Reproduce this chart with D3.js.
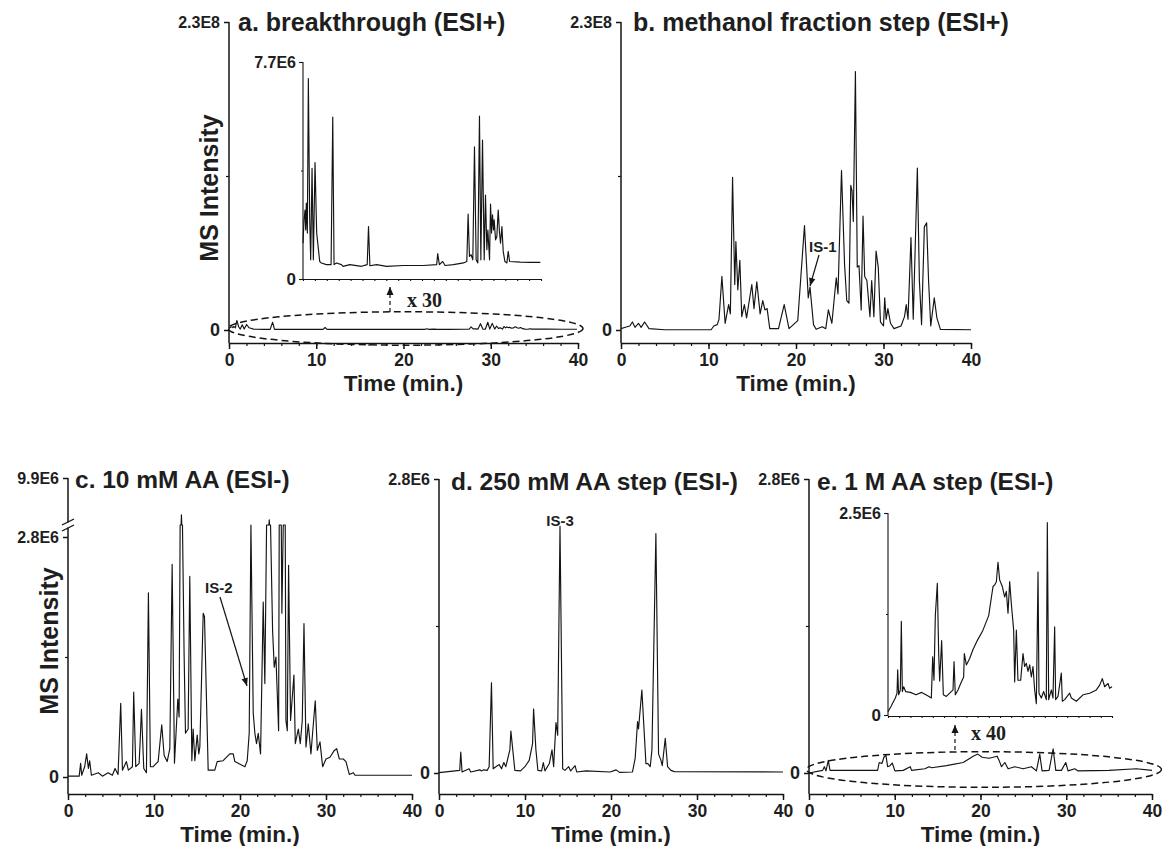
<!DOCTYPE html>
<html><head><meta charset="utf-8">
<script src="https://cdn.jsdelivr.net/npm/d3@7"></script>
<style>body{margin:0;background:#fff}svg{display:block}</style>
</head><body><svg id="chart" width="1162" height="846"></svg>
<script>
// ---------- DATA (time in min, intensity in panel units) ----------
const xTicks = [0, 10, 20, 30, 40];
const xMinor = d3.range(0, 41, 2);

// a. breakthrough (ESI+)  intensity in E6 (also drawn in main panel scaled to 2.3E8)
const aTime = [0,0.17,0.34,0.45,0.56,0.73,0.9,1.12,1.29,1.52,1.74,2.02,2.3,2.81,3.09,3.93,4.72,5.0,5.22,5.62,6.46,6.74,7.87,9.83,10.79,11.01,11.24,12.36,14.04,16.85,20.22,22.47,22.64,22.92,23.48,23.88,25.28,26.97,27.53,27.75,27.98,28.26,28.54,28.82,29.1,29.38,29.66,29.89,30.17,30.45,30.67,30.9,31.07,31.35,31.52,31.69,31.85,32.02,32.13,32.36,32.58,32.81,33.03,33.2,33.43,33.65,33.93,34.27,34.49,34.72,36.52,38.2,39.89];
const aInt = [1.27,2.10,2.45,1.74,2.69,1.63,7.11,2.22,0.68,3.93,0.68,4.13,1.63,0.62,0.57,0.51,0.51,5.75,0.51,0.57,0.51,0.45,0.51,0.45,0.51,1.86,0.47,0.51,0.45,0.48,0.48,0.51,0.90,0.51,0.62,0.48,0.51,0.57,0.62,2.30,0.80,0.86,0.68,4.69,0.68,0.57,5.78,0.68,4.93,0.68,2.98,1.04,1.74,0.68,2.66,1.63,2.28,1.74,2.10,1.39,1.51,2.45,1.63,1.27,1.86,0.98,0.62,0.57,0.98,0.62,0.60,0.59,0.59];

// b. methanol fraction step (ESI+) intensity in E8
const bTime = [0,0.5,1.0,1.3,1.6,2.0,2.3,2.7,3.2,5,10.3,10.6,11.0,11.2,11.53,11.9,12.3,12.5,12.75,13.0,13.13,13.35,13.58,13.8,14.1,14.35,14.95,15.2,15.52,15.9,16.2,16.45,16.7,17.0,18.0,18.65,19.2,20.2,20.97,21.4,21.6,22.0,22.3,23.0,23.4,23.7,24.1,24.6,24.8,25.2,25.55,25.8,26.05,26.26,26.4,26.55,26.79,27.0,27.2,27.45,27.66,27.85,28.1,28.45,28.65,28.9,29.15,29.4,29.65,30.0,30.14,30.3,30.5,30.8,31.2,32.0,32.4,32.6,32.8,33.14,33.4,33.87,34.1,34.35,34.67,34.93,35.15,35.4,35.8,36.1,36.5,40];
const bInt = [0.01,0.02,0.03,0.06,0.02,0.05,0.02,0.06,0.01,0.002,0.002,0.03,0.04,0.08,0.40,0.05,0.19,0.12,1.14,0.34,0.66,0.30,0.52,0.10,0.19,0.09,0.34,0.16,0.36,0.12,0.22,0.15,0.16,0.01,0.01,0.19,0.01,0.07,0.78,0.24,0.32,0.04,0.005,0.025,0.01,0.15,0.05,0.39,0.27,1.19,0.49,0.22,0.20,1.08,1.04,0.81,1.93,0.47,0.48,0.15,0.85,0.40,0.37,0.10,0.37,0.10,0.59,0.47,0.06,0.03,0.24,0.08,0.16,0.05,0.01,0.03,0.10,0.19,0.08,0.69,0.08,1.21,0.37,0.04,0.77,0.80,0.37,0.03,0.24,0.09,0.005,0.002];

// c. 10 mM AA (ESI-) intensity in E6 (values above 2.8 fall in broken segment)
const cTime = [0,1.3,1.47,1.59,1.94,2.17,2.37,2.52,2.72,3.53,4.0,4.66,5.16,5.47,5.82,6.13,6.33,6.79,7.02,7.49,7.64,7.88,8.27,8.38,8.54,8.81,9.12,9.35,9.58,9.9,10.48,10.9,11.18,11.53,11.84,12.11,12.38,12.77,12.92,13.04,13.15,13.19,13.23,13.31,13.5,13.66,13.97,14.16,14.4,14.55,14.75,15.02,15.21,15.33,15.72,15.87,16.3,17.07,17.35,18.04,18.82,19.21,19.4,20.57,20.84,21.07,21.27,21.54,21.73,21.92,22.12,22.39,22.7,22.89,23.09,23.36,23.4,23.44,23.55,23.79,23.98,24.18,24.49,24.56,24.8,24.87,25.03,25.26,25.34,25.5,25.65,25.88,26.27,26.43,26.78,27.01,27.24,27.44,27.67,27.94,28.25,28.44,28.75,28.99,29.3,29.61,30.0,30.46,30.97,31.24,31.55,32.01,32.32,32.71,33.18,33.37,40];
const cInt = [0.01,0.01,0.16,0.02,0.12,0.27,0.10,0.19,0.02,0.05,0.01,0.05,0.02,0.10,0.03,0.86,0.08,0.18,0.08,0.12,0.99,0.12,0.16,0.39,0.79,0.10,0.05,2.15,0.12,0.12,0.18,0.61,0.25,0.18,0.33,2.48,0.16,0.91,0.70,3.0,3.0,4.5,3.0,3.0,1.44,0.51,0.56,2.34,0.19,0.56,0.19,0.49,0.27,0.35,1.91,1.87,0.08,0.08,0.18,0.19,0.27,0.27,0.18,0.12,0.19,0.51,3.0,0.74,0.51,0.39,0.51,0.27,2.04,1.09,3.0,3.0,3.75,3.0,3.0,1.71,1.28,1.40,0.54,3.0,3.0,1.91,3.0,3.0,0.66,0.54,2.47,0.66,1.19,0.39,0.56,0.39,0.66,1.79,0.35,0.62,0.27,0.51,0.89,0.31,0.41,0.12,0.21,0.23,0.31,0.33,0.21,0.21,0.18,0.03,0.05,0.02,0.02];

// d. 250 mM AA step (ESI-) intensity in E6
const dTime = [0,2.41,2.53,2.68,3.5,3.69,4.74,4.94,5.21,5.6,5.83,6.1,6.3,6.61,7.0,7.27,7.54,7.77,8.24,8.36,8.63,8.82,9.48,9.99,10.49,10.88,11.0,11.27,11.5,11.93,12.13,12.32,12.83,13.14,13.33,13.6,13.8,14.07,14.38,14.65,15.08,15.31,15.82,16.01,17.1,19.9,20.6,20.99,22.5,22.81,23.09,23.2,23.59,23.9,24.06,24.29,24.56,24.76,25.22,25.53,25.81,25.96,26.31,26.58,26.97,27.36,40];
const dInt = [0.003,0.025,0.20,0.01,0.04,0.01,0.03,0.02,0.03,0.025,0.06,0.86,0.04,0.06,0.08,0.04,0.10,0.06,0.22,0.40,0.18,0.025,0.02,0.06,0.12,0.28,0.61,0.22,0.025,0.02,0.10,0.02,0.09,0.22,0.06,0.48,0.36,2.35,0.04,0.025,0.06,0.02,0.07,0.01,0.02,0.01,0.03,0.006,0.01,0.14,0.49,0.42,0.79,0.33,0.09,0.09,0.06,0.22,2.28,0.18,0.12,0.07,0.33,0.06,0.025,0.013,0.01];

// e. 1 M AA step (ESI-) main trace, intensity in E6
const eTime = [0,1.59,1.79,1.98,2.25,2.45,3.03,5.0,8.0,8.19,8.5,8.74,8.97,9.17,9.44,9.71,10.02,10.99,11.81,11.96,13.51,14.02,14.29,16.04,17.98,19.15,19.69,20.19,21.0,21.48,21.94,22.17,22.45,22.84,23.22,24.0,24.97,25.94,26.52,26.91,27.18,28.0,28.47,28.78,29.44,29.94,30.21,30.99,31.38,34.99,38.17,40];
const eInt = [0,0.025,0.06,0.02,0.12,0.025,0.025,0.025,0.025,0.10,0.09,0.15,0.17,0.06,0.07,0.095,0.02,0.025,0.06,0.025,0.04,0.06,0.05,0.07,0.10,0.16,0.18,0.15,0.14,0.15,0.16,0.12,0.06,0.10,0.04,0.06,0.04,0.06,0.02,0.18,0.02,0.025,0.23,0.025,0.025,0.10,0.02,0.04,0.02,0.025,0.04,0.025];
// e. inset (x 40), intensity in E6
const eiTime = [0,0.48,1.01,1.31,1.61,1.73,1.9,2.2,2.38,2.56,2.8,3.15,3.99,5.0,6.01,7.02,7.74,7.98,8.21,8.45,8.81,9.05,9.23,9.58,9.88,10.42,11.01,11.61,11.79,12.02,12.5,12.98,13.51,13.63,13.99,14.58,15.18,16.01,16.96,17.98,18.75,19.05,19.35,19.64,19.94,20.42,20.83,21.13,21.43,21.73,22.02,22.44,22.62,22.92,23.21,23.69,24.11,24.4,24.7,25.0,25.3,25.6,25.89,26.19,26.49,26.79,26.96,27.38,27.8,28.27,28.45,28.69,29.17,29.46,29.76,29.94,30.36,30.95,31.13,31.55,32.44,32.74,33.63,34.82,36.01,37.2,37.8,38.27,38.69,39.29,39.58,40];
const eiInt = [0.04,0.10,0.17,0.21,0.27,0.56,0.25,0.31,1.16,0.29,0.35,0.29,0.28,0.25,0.28,0.24,0.21,0.72,0.43,1.23,1.63,0.76,0.42,0.92,0.25,0.23,0.27,0.31,0.66,0.25,0.31,0.39,0.47,0.76,0.62,0.70,0.81,0.93,1.05,1.23,1.59,1.61,1.65,1.89,1.67,1.59,1.46,1.53,1.26,1.65,1.38,1.05,0.41,1.05,0.43,0.43,0.76,0.60,0.64,0.54,0.62,0.47,0.60,0.31,0.14,1.77,0.27,0.21,0.29,0.19,2.38,0.19,0.31,0.21,1.09,0.19,0.23,0.52,0.17,0.19,0.27,0.21,0.17,0.25,0.27,0.31,0.37,0.45,0.35,0.39,0.33,0.35];

const titles = ["a. breakthrough (ESI+)", "b. methanol fraction step (ESI+)", "c. 10 mM AA (ESI-)", "d. 250 mM AA step (ESI-)", "e. 1 M AA step (ESI-)"];
const yLabelsA = ["0", "2.3E8"], yLabelsB = ["0", "2.3E8"], yLabelsC = ["0", "2.8E6", "9.9E6"], yLabelsD = ["0", "2.8E6"], yLabelsE = ["0", "2.8E6"];
const insetLabelsA = ["0", "7.7E6"], insetLabelsE = ["0", "2.5E6"];

// ---------- DRAWING ----------
const FONT = '"Liberation Sans", Arial, Helvetica, sans-serif';
const SERIF = '"Liberation Serif", "Times New Roman", serif';
const INK = '#141414';
const svg = d3.select('#chart');
const zip = (t, v) => t.map((d, i) => [d, v[i]]);

function styleAxis(sel, size, sw) {
  sel.attr('font-family', FONT).attr('font-size', size).attr('font-weight', 'bold');
  sel.selectAll('text').attr('fill', '#1e1e1e');
  sel.selectAll('line,path').attr('stroke', INK).attr('stroke-width', sw || 1.5);
}

function text(g, s, x, y, size, opts = {}) {
  return g.append('text').text(s).attr('x', x).attr('y', y)
    .attr('font-family', opts.family || FONT).attr('font-size', size)
    .attr('font-weight', 'bold').attr('fill', '#1e1e1e')
    .attr('text-anchor', opts.anchor || 'start');
}

function arrowLine(g, x1, y1, x2, y2, len, wid, dash) {
  g.append('line').attr('x1', x1).attr('y1', y1).attr('x2', x2).attr('y2', y2)
    .attr('stroke', INK).attr('stroke-width', 1.2).attr('stroke-dasharray', dash || null);
  const a = Math.atan2(y2 - y1, x2 - x1);
  const bx = x2 - len * Math.cos(a), by = y2 - len * Math.sin(a);
  const p = [[x2, y2], [bx + wid * Math.sin(a), by - wid * Math.cos(a)], [bx - wid * Math.sin(a), by + wid * Math.cos(a)]];
  g.append('path').attr('d', 'M' + p.join('L') + 'Z').attr('fill', INK);
}

function mainPanel(p) {
  const g = svg.append('g');
  const x = d3.scaleLinear().domain([0, 40]).range([p.x0, p.x1]);
  const y = d3.scaleLinear().domain(p.yDom).range(p.yRng);
  const xa = g.append('g').attr('transform', `translate(0,${p.axisY})`)
    .call(d3.axisBottom(x).tickValues(xTicks).tickSize(6).tickPadding(5).tickSizeOuter(0).tickFormat(d => d));
  styleAxis(xa, 17.5);
  const xm = g.append('g').attr('transform', `translate(0,${p.axisY})`)
    .call(d3.axisBottom(x).tickValues(xMinor).tickSize(3).tickFormat(''));
  xm.select('.domain').remove(); styleAxis(xm, 10, 1.2);
  const ya = g.append('g').attr('transform', `translate(${p.x0},0)`)
    .call(d3.axisLeft(y).tickValues(p.yTicks).tickSize(5).tickPadding(4).tickFormat((d, i) => p.yLabels[i]));
  ya.select('.domain').remove(); styleAxis(ya, 16);
  ya.selectAll('.tick text').filter(d => d === 0).attr('font-size', 18);
  const ym = g.append('g').attr('transform', `translate(${p.x0},0)`)
    .call(d3.axisLeft(y).tickValues([p.mid]).tickSize(3).tickFormat(''));
  ym.select('.domain').remove(); styleAxis(ym, 10, 1.2);
  const top = y(p.yTicks[p.yTicks.length - 1]);
  if (p.breakAt) {
    g.append('line').attr('x1', p.x0).attr('x2', p.x0).attr('y1', top).attr('y2', p.breakAt - 2.5).attr('stroke', INK).attr('stroke-width', 1.5);
    g.append('line').attr('x1', p.x0).attr('x2', p.x0).attr('y1', p.breakAt + 2.5).attr('y2', p.axisY).attr('stroke', INK).attr('stroke-width', 1.5);
    [-3, 3].forEach(o => g.append('line').attr('x1', p.x0 - 6).attr('y1', p.breakAt + o + 3).attr('x2', p.x0 + 6).attr('y2', p.breakAt + o - 3).attr('stroke', INK).attr('stroke-width', 1.3));
  } else {
    g.append('line').attr('x1', p.x0).attr('x2', p.x0).attr('y1', top).attr('y2', p.axisY).attr('stroke', INK).attr('stroke-width', 1.5);
  }
  g.append('path').datum(zip(p.t, p.v))
    .attr('d', d3.line().x(d => x(d[0])).y(d => y(d[1])))
    .attr('fill', 'none').attr('stroke', INK).attr('stroke-width', 1.15).attr('stroke-linejoin', 'round');
  text(g, 'Time (min.)', (p.x0 + p.x1) / 2, p.axisY + 47.5, 22.5, { anchor: 'middle' });
  text(g, p.title, p.titleX, p.titleY, p.titleSize);
  return { g, x, y };
}

function insetPanel(p) {
  const g = svg.append('g');
  const x = d3.scaleLinear().domain([0, 40]).range([p.x0, p.x1]);
  const y = d3.scaleLinear().domain([0, p.top]).range([p.zeroY, p.topY]);
  const xa = g.append('g').attr('transform', `translate(0,${p.axisY})`)
    .call(d3.axisBottom(x).tickValues(xMinor).tickSize(2).tickSizeOuter(0).tickFormat(''));
  styleAxis(xa, 10, 1.1);
  const ya = g.append('g').attr('transform', `translate(${p.x0},0)`)
    .call(d3.axisLeft(y).tickValues([0, p.top]).tickSize(4).tickPadding(3).tickSizeOuter(0).tickFormat((d, i) => p.labels[i]));
  ya.select('.domain').remove(); styleAxis(ya, 16, 1.1);
  ya.selectAll('.tick text').filter(d => d === 0).attr('font-size', 17);
  const ym = g.append('g').attr('transform', `translate(${p.x0},0)`)
    .call(d3.axisLeft(y).tickValues([p.top / 2]).tickSize(2).tickFormat(''));
  ym.select('.domain').remove(); styleAxis(ym, 10, 1);
  g.append('line').attr('x1', p.x0).attr('x2', p.x0).attr('y1', p.topY).attr('y2', p.axisY).attr('stroke', INK).attr('stroke-width', 1.1);
  g.append('path').datum(zip(p.t, p.v))
    .attr('d', d3.line().x(d => x(d[0])).y(d => y(d[1])))
    .attr('fill', 'none').attr('stroke', INK).attr('stroke-width', 1.15).attr('stroke-linejoin', 'round');
}

function zoomMark(cx, cy, rx, ry, ax, ay1, ay2, label, lx, ly) {
  const g = svg.append('g');
  g.append('ellipse').attr('cx', cx).attr('cy', cy).attr('rx', rx).attr('ry', ry)
    .attr('fill', 'none').attr('stroke', INK).attr('stroke-width', 1.5).attr('stroke-dasharray', '7,4');
  arrowLine(g, ax, ay1, ax, ay2, 8, 3.5, '4,3');
  text(g, label, lx, ly, 20, { family: SERIF });
}

// a
mainPanel({ x0: 229, x1: 578, axisY: 343, yDom: [0, 230], yRng: [330, 22], yTicks: [0, 230], yLabels: yLabelsA, mid: 115,
  t: aTime, v: aInt, title: titles[0], titleX: 238, titleY: 31, titleSize: 25 });
insetPanel({ x0: 303, x1: 541, zeroY: 279, topY: 62, axisY: 279, top: 7.7, labels: insetLabelsA, t: aTime, v: aInt });
zoomMark(405.5, 328.5, 177.5, 16.7, 390, 312, 287, 'x 30', 407, 307);
text(svg, 'MS Intensity', 0, 0, 25, { anchor: 'middle' }).attr('transform', 'translate(218,188) rotate(-90)');

// b
mainPanel({ x0: 621, x1: 971, axisY: 343, yDom: [0, 2.3], yRng: [330, 22], yTicks: [0, 2.3], yLabels: yLabelsB, mid: 1.15,
  t: bTime, v: bInt, title: titles[1], titleX: 633, titleY: 31, titleSize: 25 });
text(svg, 'IS-1', 809, 252, 15);
arrowLine(svg, 819, 255, 810, 286, 8, 3.2);

// c
mainPanel({ x0: 68, x1: 412, axisY: 794, yDom: [0, 2.8, 3.0, 9.9], yRng: [777, 537, 525, 478], yTicks: [0, 2.8, 9.9], yLabels: yLabelsC, mid: 1.4,
  breakAt: 525, t: cTime, v: cInt, title: titles[2], titleX: 75, titleY: 488, titleSize: 24.5 });
text(svg, 'MS Intensity', 0, 0, 25, { anchor: 'middle' }).attr('transform', 'translate(58,641) rotate(-90)');
text(svg, 'IS-2', 205, 593, 15);
arrowLine(svg, 220, 597, 247, 686, 8, 3.2);

// d
mainPanel({ x0: 439, x1: 783, axisY: 794, yDom: [0, 2.8], yRng: [773, 479], yTicks: [0, 2.8], yLabels: yLabelsD, mid: 1.4,
  t: dTime, v: dInt, title: titles[3], titleX: 451, titleY: 490, titleSize: 24.5 });
text(svg, 'IS-3', 560, 526, 15, { anchor: 'middle' });

// e
mainPanel({ x0: 809, x1: 1152, axisY: 794, yDom: [0, 2.8], yRng: [773, 479], yTicks: [0, 2.8], yLabels: yLabelsE, mid: 1.4,
  t: eTime, v: eInt, title: titles[4], titleX: 817, titleY: 490, titleSize: 24.5 });
insetPanel({ x0: 888, x1: 1112, zeroY: 715, topY: 513, axisY: 716, top: 2.5, labels: insetLabelsE, t: eiTime, v: eiInt });
zoomMark(984, 769.5, 177.5, 17.8, 955, 750, 725, 'x 40', 971, 740);
</script></body></html>
